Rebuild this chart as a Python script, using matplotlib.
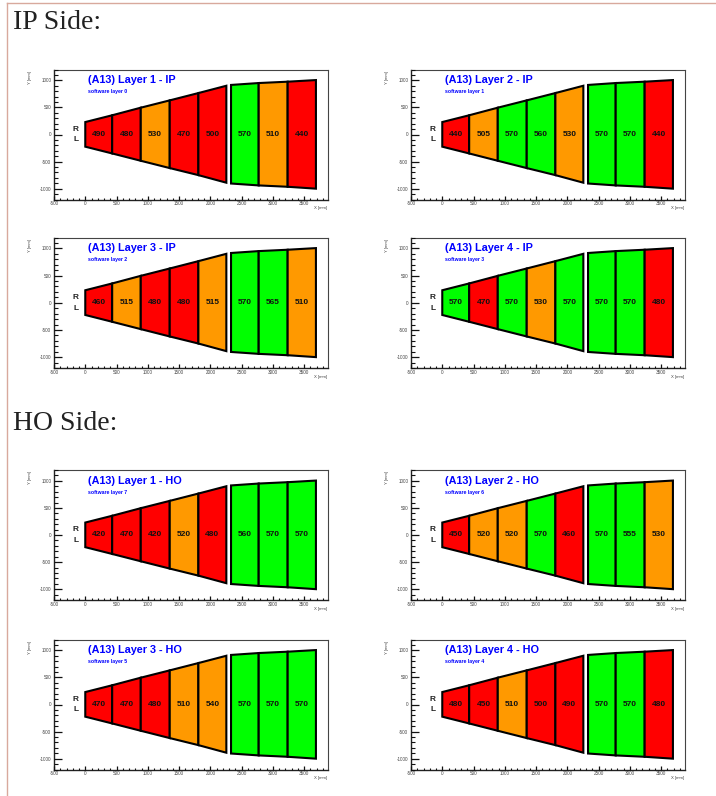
import matplotlib
matplotlib.use("Agg")
import matplotlib.pyplot as plt
from matplotlib.lines import Line2D
from matplotlib.ticker import FixedLocator, FixedFormatter

W, H = 716, 796

# Module boundaries (mm)
inner_x = [0, 430, 887, 1350, 1808, 2255]
inner_top = [230, 355, 495, 630, 765, 900]
inner_bot = [-225, -350, -485, -620, -750, -890]
outer_x = [2330, 2772, 3235, 3687]
outer_top = [915, 950, 975, 1005]
outer_bot = [-905, -940, -965, -1000]

titles = ["Layer 1 - IP", "Layer 2 - IP", "Layer 3 - IP", "Layer 4 - IP",
          "Layer 1 - HO", "Layer 2 - HO", "Layer 3 - HO", "Layer 4 - HO"]
software_layers = [0, 1, 2, 3, 7, 6, 5, 4]

layer1_ip = [490, 480, 530, 470, 500, 570, 510, 440]
layer2_ip = [440, 505, 570, 560, 530, 570, 570, 440]
layer3_ip = [460, 515, 480, 480, 515, 570, 565, 510]
layer4_ip = [570, 470, 570, 530, 570, 570, 570, 480]
layer1_ho = [420, 470, 420, 520, 480, 560, 570, 570]
layer2_ho = [450, 520, 520, 570, 460, 570, 555, 530]
layer3_ho = [470, 470, 480, 510, 540, 570, 570, 570]
layer4_ho = [480, 450, 510, 500, 490, 570, 570, 480]
all_values = [layer1_ip, layer2_ip, layer3_ip, layer4_ip,
              layer1_ho, layer2_ho, layer3_ho, layer4_ho]

x_major = [-500, 0, 500, 1000, 1500, 2000, 2500, 3000, 3500]
y_major = [-1000, -500, 0, 500, 1000]
x_minor = [v for v in range(-500, 3900, 100) if v % 500]
y_minor = [v for v in range(-1200, 1300, 100) if v % 500]

col_px = [(54, 328), (411, 685)]
row_px = [(69.5, 199.5), (237.5, 368), (470, 600), (639.5, 769.5)]

RED, ORANGE, GREEN = "#ff0000", "#ff9900", "#00ff00"


def colour(v):
    if v < 505:
        return RED
    if v < 555:
        return ORANGE
    return GREEN


fig = plt.figure(figsize=(W / 100, H / 100), dpi=100, facecolor="white")
sans = ["Liberation Sans", "DejaVu Sans"]
serif = ["Liberation Serif", "DejaVu Serif"]


def draw_panel(idx, l, r, t, b):
    ax = fig.add_axes([l / W, 1 - b / H, (r - l) / W, (b - t) / H])
    ax.set_axisbelow(False)
    ax.set_xlim(-500, 3880)
    ax.set_ylim(-1200, 1200)
    vals = all_values[idx]
    k = 0
    for xs, top, bot in ((inner_x, inner_top, inner_bot), (outer_x, outer_top, outer_bot)):
        for i in range(len(xs) - 1):
            ax.fill([xs[i], xs[i + 1], xs[i + 1], xs[i]],
                    [top[i], top[i + 1], bot[i + 1], bot[i]],
                    facecolor=colour(vals[k]), edgecolor="black", lw=1.5,
                    joinstyle="miter", zorder=2)
            ax.text((xs[i] + xs[i + 1]) / 2, 0, str(vals[k]), ha="center", va="center",
                    fontsize=6.0, fontweight="bold", family=sans, color="#111111", zorder=3)
            k += 1
    ax.text(-150, 100, "R", ha="center", va="center", fontsize=6.0, fontweight="bold", family=sans, color="#222222")
    ax.text(-150, -100, "L", ha="center", va="center", fontsize=6.0, fontweight="bold", family=sans, color="#222222")
    ax.text(50, 1000, "(A13) " + titles[idx], ha="left", va="center", color="#0000ff",
            fontsize=7.8, fontweight="bold", family=sans)
    ax.text(50, 790, f"software layer {software_layers[idx]}", ha="left", va="center", color="#0000ff",
            fontsize=3.7, fontweight="bold", family=sans)

    ax.xaxis.set_major_locator(FixedLocator(x_major))
    ax.xaxis.set_major_formatter(FixedFormatter([str(v) for v in x_major]))
    ax.xaxis.set_minor_locator(FixedLocator(x_minor))
    ax.yaxis.set_major_locator(FixedLocator(y_major))
    ax.yaxis.set_major_formatter(FixedFormatter([str(v) for v in y_major]))
    ax.yaxis.set_minor_locator(FixedLocator(y_minor))
    ax.tick_params(axis="x", which="major", direction="in", length=3.2, width=0.9, pad=1.2,
                   labelsize=3.3, labelcolor="#444444", color="#111111")
    ax.tick_params(axis="x", which="minor", direction="in", length=1.8, width=0.8, color="#111111")
    ax.tick_params(axis="y", which="major", direction="in", length=6.0, width=0.9, pad=2.0,
                   labelsize=3.3, labelcolor="#444444", color="#111111")
    ax.tick_params(axis="y", which="minor", direction="in", length=3.2, width=0.8, color="#111111")
    for lab in ax.get_xticklabels() + ax.get_yticklabels():
        lab.set_family(sans)
    for s in ("top", "right"):
        ax.spines[s].set_linewidth(0.8)
        ax.spines[s].set_color("#444444")
    for s in ("left", "bottom"):
        ax.spines[s].set_linewidth(1.0)
        ax.spines[s].set_color("#222222")
    fig.text((r - 0.5) / W, 1 - (b + 9) / H, "X [mm]", ha="right", va="center", fontsize=3.1,
             color="#444444", family=sans)
    fig.text((l - 24) / W, 1 - (t + 1.5) / H, "Y [mm]", ha="center", va="top", rotation=90, fontsize=3.1,
             color="#444444", family=sans)


for n, (t, b) in enumerate(row_px):
    for m, (l, r) in enumerate(col_px):
        draw_panel(n * 2 + m, l, r, t, b)

fig.text(13 / W, 1 - 22.5 / H, "IP Side:", fontsize=20, family=serif, color="#222222", ha="left", va="center")
fig.text(13 / W, 1 - 423 / H, "HO Side:", fontsize=20, family=serif, color="#222222", ha="left", va="center")

border = "#d8a99d"
fig.add_artist(Line2D([6.5 / W, 6.5 / W], [0, 1 - 2.5 / H], color=border, lw=1.0, transform=fig.transFigure))
fig.add_artist(Line2D([6.5 / W, 1], [1 - 2.5 / H, 1 - 2.5 / H], color=border, lw=1.0, transform=fig.transFigure))

fig.savefig("out.png", dpi=100, facecolor="white")
